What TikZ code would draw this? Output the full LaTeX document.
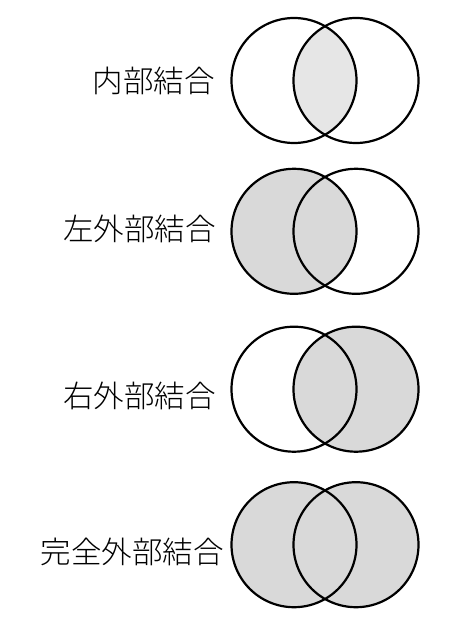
\documentclass[tikz,border=0pt]{standalone}
\usepackage{fontspec}
\newfontfamily\jpfont{Noto Sans CJK JP}[UprightFont={* Light}]
\definecolor{fillA}{HTML}{E6E6E6}
\definecolor{fillB}{HTML}{D9D9D9}
\tikzset{
  ring/.style={draw=black, line width=2.2bp},
  lbl/.style={anchor=base east, inner sep=0pt, font=\jpfont\fontsize{30.5bp}{36bp}\selectfont}
}
\begin{document}
\begin{tikzpicture}[x=1bp,y=-1bp]
\useasboundingbox[fill=white] (0,0) rectangle (475,626);
\def\R{62.5}
% Row 1: inner join
\begin{scope}
  \clip (294,80.5) circle (\R);
  \fill[fillA] (356,80.5) circle (\R);
\end{scope}
\draw[ring] (294,80.5) circle (\R);
\draw[ring] (356,80.5) circle (\R);
\node[lbl] (t1) at (215,93) {内部結合};
% Row 2: left outer join
\fill[fillB] (294,231.3) circle (\R);
\draw[ring] (294,231.3) circle (\R);
\draw[ring] (356,231.3) circle (\R);
\node[lbl] (t2) at (216,240.5) {左外部結合};
% Row 3: right outer join
\fill[fillB] (356,389.2) circle (\R);
\draw[ring] (294,389.2) circle (\R);
\draw[ring] (356,389.2) circle (\R);
\node[lbl] (t3) at (216,407) {右外部結合};
% Row 4: full outer join
\fill[fillB] (294,544.7) circle (\R);
\fill[fillB] (356,544.7) circle (\R);
\draw[ring] (294,544.7) circle (\R);
\draw[ring] (356,544.7) circle (\R);
\node[lbl] (t4) at (224,563.5) {完全外部結合};
\end{tikzpicture}
\end{document}
